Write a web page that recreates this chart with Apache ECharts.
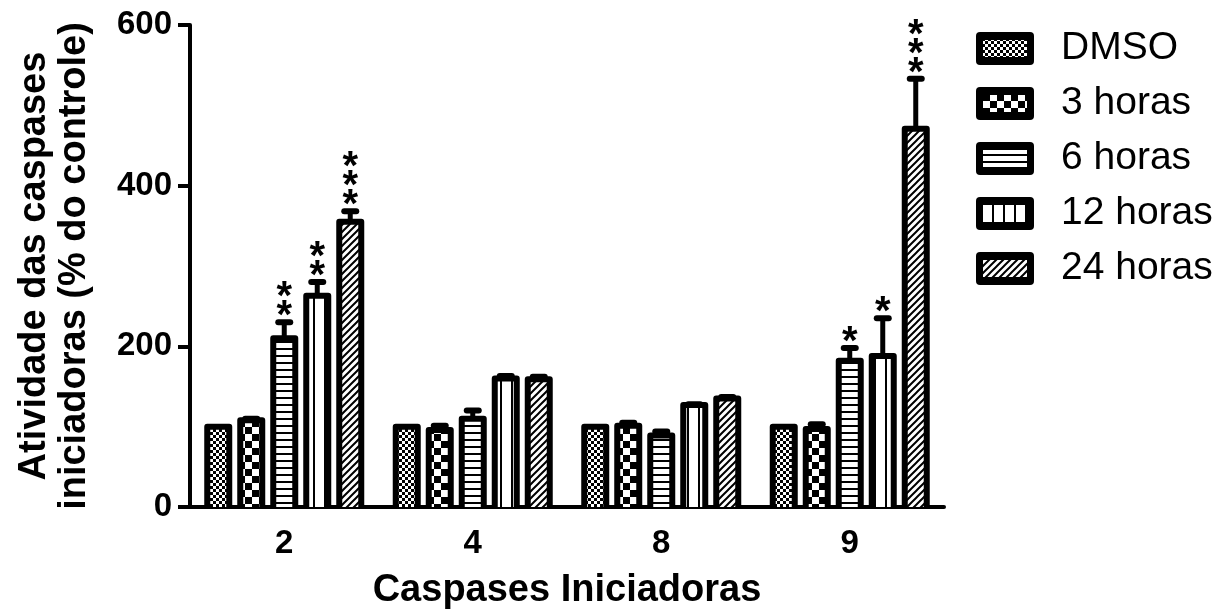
<!DOCTYPE html>
<html>
<head>
<meta charset="utf-8">
<script src="https://cdn.jsdelivr.net/npm/echarts@6/dist/echarts.min.js"></script>
<style>
html,body{margin:0;padding:0;background:#fff;}
#chart{width:1231px;height:616px;}
</style>
</head>
<body>
<div id="chart"></div>
<script>
// ---- data ----
const categories = ['2', '4', '8', '9'];
const seriesNames = ['DMSO', '3 horas', '6 horas', '12 horas', '24 horas'];
const dmso = [100, 100, 100, 100];
const h3 = [108, 96, 101, 97];
const h6 = [210, 110, 89, 182];
const h12 = [263, 160, 127, 188];
const h24 = [355, 159, 135, 471];
const dmsoErr = [0, 0, 0, 0];
const h3Err = [2, 5, 4, 6];
const h6Err = [20, 10, 5, 16];
const h12Err = [17, 3, 1, 47];
const h24Err = [13, 3, 2, 62];
const dmsoStars = ['', '', '', ''];
const h3Stars = ['', '', '', ''];
const h6Stars = ['**', '', '', '*'];
const h12Stars = ['**', '', '', '*'];
const h24Stars = ['***', '', '', '***'];
const yTicks = [0, 200, 400, 600];

const values = [dmso, h3, h6, h12, h24];
const errors = [dmsoErr, h3Err, h6Err, h12Err, h24Err];
const stars = [dmsoStars, h3Stars, h6Stars, h12Stars, h24Stars];

// ---- patterns ----
function drawPattern(kind) {
  const c = document.createElement('canvas');
  let w = 8, h = 8;
  if (kind === 'fine') { w = 6; h = 6; }
  if (kind === 'check') { w = 14; h = 14; }
  if (kind === 'hline') { w = 8; h = 7; }
  if (kind === 'vline') { w = 11; h = 8; }
  if (kind === 'diag') { w = 7; h = 7; }
  c.width = w; c.height = h;
  const g = c.getContext('2d');
  g.fillStyle = '#fff'; g.fillRect(0, 0, w, h);
  g.fillStyle = '#000'; g.strokeStyle = '#000';
  if (kind === 'fine') { g.fillRect(0, 0, 3, 3); g.fillRect(3, 3, 3, 3); }
  if (kind === 'check') { g.fillRect(0, 0, 7, 7); g.fillRect(7, 7, 7, 7); }
  if (kind === 'hline') { g.fillRect(0, 5, w, 2); }
  if (kind === 'vline') { g.fillRect(5, 0, 2, h); }
  if (kind === 'diag') {
    g.lineWidth = 2;
    g.beginPath();
    g.moveTo(-1, 8); g.lineTo(8, -1);
    g.moveTo(-2, 2); g.lineTo(2, -2);
    g.moveTo(5, 9); g.lineTo(9, 5);
    g.stroke();
  }
  return c;
}
const kinds = ['fine', 'check', 'hline', 'vline', 'diag'];
const patternCanvases = kinds.map(drawPattern);
const patterns = patternCanvases.map(c => ({ image: c, repeat: 'repeat' }));

// legend icons: thick black rounded frame with the pattern inside
function legendIcon(pc) {
  const W = 58, H = 33;
  const c = document.createElement('canvas');
  c.width = W; c.height = H;
  const g = c.getContext('2d');
  g.fillStyle = '#000';
  const r = 4;
  g.beginPath();
  g.moveTo(r, 0); g.lineTo(W - r, 0); g.quadraticCurveTo(W, 0, W, r);
  g.lineTo(W, H - r); g.quadraticCurveTo(W, H, W - r, H);
  g.lineTo(r, H); g.quadraticCurveTo(0, H, 0, H - r);
  g.lineTo(0, r); g.quadraticCurveTo(0, 0, r, 0);
  g.fill();
  g.fillStyle = g.createPattern(pc, 'repeat');
  g.fillRect(7, 8, W - 14, H - 16);
  return 'image://' + c.toDataURL();
}
const legendIcons = patternCanvases.map(legendIcon);

const CAT_GAP = 0.183, BAR_GAP = 0.5;
const BORDER = 6;
const FONT = 'Liberation Sans, Arial, Helvetica, sans-serif';

// ---- custom series data (outlines, error bars, significance) ----
const markData = [];
const markStars = [];
for (let s = 0; s < values.length; s++) {
  for (let c = 0; c < categories.length; c++) {
    markData.push([c, s, values[s][c], errors[s][c]]);
    markStars.push(stars[s][c]);
  }
}

const barSeries = seriesNames.map((name, s) => ({
  name: name,
  type: 'bar',
  data: values[s],
  barGap: (BAR_GAP * 100) + '%',
  barCategoryGap: (CAT_GAP * 100) + '%',
  itemStyle: { color: patterns[s] },
  emphasis: { disabled: true },
  z: 2
}));

const customSeries = {
  type: 'custom',
  data: markData,
  z: 5,
  silent: true,
  renderItem: function (params, api) {
    const ci = api.value(0), si = api.value(1), v = api.value(2), e = api.value(3);
    const n = seriesNames.length;
    const band = api.size([1, 0])[0];
    const bw = band * (1 - CAT_GAP) / (n + (n - 1) * BAR_GAP);
    const total = n * bw + (n - 1) * BAR_GAP * bw;
    const base = api.coord([ci, v]);
    const y0 = api.coord([ci, 0])[1];
    const x = base[0] - total / 2 + bw / 2 + si * bw * (1 + BAR_GAP);
    const yTop = base[1];
    const children = [];
    // bar outline (stroke centred on the bar edges, open at the baseline)
    children.push({
      type: 'polyline',
      shape: { points: [[x - bw / 2, y0], [x - bw / 2, yTop], [x + bw / 2, yTop], [x + bw / 2, y0]] },
      style: { stroke: '#000', lineWidth: BORDER, fill: null, lineJoin: 'round' }
    });
    let capY = yTop;
    if (e > 0) {
      capY = api.coord([ci, v + e])[1];
      children.push({
        type: 'line',
        shape: { x1: x, y1: yTop, x2: x, y2: capY },
        style: { stroke: '#000', lineWidth: 5, lineCap: 'butt' }
      });
      children.push({
        type: 'line',
        shape: { x1: x - 6, y1: capY, x2: x + 6, y2: capY },
        style: { stroke: '#000', lineWidth: 6, lineCap: 'round' }
      });
    }
    const st = markStars[params.dataIndex];
    for (let k = 0; k < st.length; k++) {
      children.push({
        type: 'text',
        style: {
          text: '*',
          x: x,
          y: capY - 5 - k * 19,
          align: 'center',
          verticalAlign: 'middle',
          fill: '#000',
          font: 'bold 40px ' + FONT
        }
      });
    }
    return { type: 'group', children: children };
  }
};

const chart = echarts.init(document.getElementById('chart'), null, { renderer: 'canvas' });
chart.setOption({
  animation: false,
  backgroundColor: '#fff',
  textStyle: { fontFamily: FONT, color: '#000' },
  grid: { left: 190, right: 287, top: 25, bottom: 109, containLabel: false },
  legend: {
    data: seriesNames.map((nm, i) => ({ name: nm, icon: legendIcons[i] })),
    orient: 'vertical',
    left: 976,
    top: 29,
    padding: 0,
    itemWidth: 58,
    itemHeight: 33,
    itemGap: 16,
    selectedMode: false,
    textStyle: { fontSize: 39, color: '#000', fontFamily: FONT, padding: [0, 0, 0, 22] }
  },
  xAxis: {
    type: 'category',
    data: categories,
    name: 'Caspases Iniciadoras',
    nameLocation: 'middle',
    nameGap: 65,
    nameTextStyle: { fontSize: 38, fontWeight: 'bold', color: '#000', fontFamily: FONT },
    axisLine: { lineStyle: { color: '#000', width: 4 } },
    axisTick: { alignWithLabel: true, length: 12, lineStyle: { color: '#000', width: 4 } },
    axisLabel: { fontSize: 33, fontWeight: 'bold', color: '#000', margin: 20, fontFamily: FONT },
    splitLine: { show: false }
  },
  yAxis: {
    type: 'value',
    min: yTicks[0],
    max: yTicks[yTicks.length - 1],
    interval: 200,
    name: 'Atividade das caspases\niniciadoras (% do controle)',
    nameLocation: 'middle',
    nameGap: 95,
    nameTextStyle: { fontSize: 38, fontWeight: 'bold', color: '#000', lineHeight: 40, fontFamily: FONT },
    axisLine: { show: true, lineStyle: { color: '#000', width: 4 } },
    axisTick: { show: true, length: 12, lineStyle: { color: '#000', width: 4 } },
    axisLabel: { fontSize: 33, fontWeight: 'bold', color: '#000', margin: 18, fontFamily: FONT },
    splitLine: { show: false }
  },
  series: barSeries.concat([customSeries])
});
</script>
</body>
</html>
